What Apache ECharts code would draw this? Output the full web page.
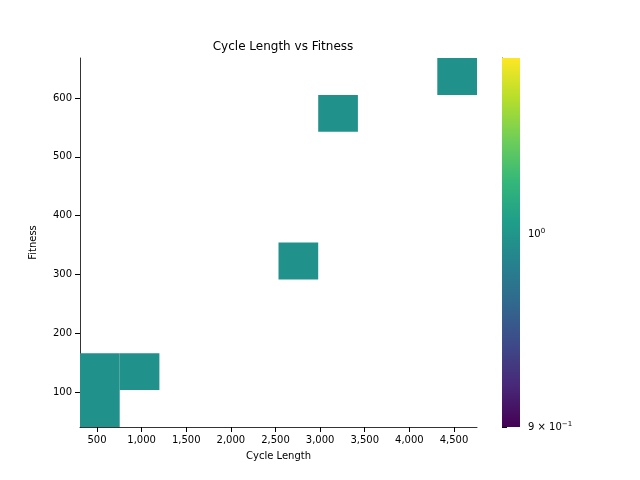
<!DOCTYPE html>
<html><head><meta charset="utf-8">
<script src="https://cdn.jsdelivr.net/npm/echarts@6/dist/echarts.min.js"></script>
<style>body{margin:0}#c{width:640px;height:480px}</style></head>
<body><div id="c"></div>
<script>
const points = [[310,40.5],[520,130],[1000,140],[2750,320],[3200,575],[4758,668]];
const xTicks = [500,1000,1500,2000,2500,3000,3500,4000,4500];
const yTicks = [100,200,300,400,500,600];
const nBins = 10;
const cbMin = 0.9, cbMax = 1.101;
const viridis = ['#440154','#482878','#3e4989','#31688e','#26828e','#1f9e89','#35b779','#6ece58','#b5de2b','#fde725'];

const xs = points.map(p=>p[0]), ys = points.map(p=>p[1]);
const xmin=Math.min(...xs), xmax=Math.max(...xs), ymin=Math.min(...ys), ymax=Math.max(...ys);
const dx=(xmax-xmin)/nBins, dy=(ymax-ymin)/nBins;
const counts={};
points.forEach(([x,y])=>{
  const i=Math.min(nBins-1,Math.floor((x-xmin)/dx)), j=Math.min(nBins-1,Math.floor((y-ymin)/dy));
  counts[i+','+j]=(counts[i+','+j]||0)+1;
});
const cells=Object.keys(counts).map(k=>{const [i,j]=k.split(',').map(Number);
  return [xmin+i*dx,xmin+(i+1)*dx,ymin+j*dy,ymin+(j+1)*dy,counts[k]];});

const chart=echarts.init(document.getElementById('c'));
const font={fontFamily:'DejaVu Sans',fontSize:10,color:'#000'};
const axLine={show:true,lineStyle:{color:'#000',width:0.8}};
chart.setOption({
  animation:false,
  title:{text:'Cycle Length vs Fitness',left:278,top:36,textAlign:'center',textStyle:{fontFamily:'DejaVu Sans',fontSize:12,fontWeight:'normal',color:'#000'}},
  grid:[{left:80,right:163,top:58,bottom:53},{left:502,width:18,top:58,bottom:53}],
  xAxis:[{type:'value',min:xmin,max:xmax,gridIndex:0,name:'Cycle Length',nameLocation:'middle',nameGap:24,nameTextStyle:font,
    axisLine:axLine,splitLine:{show:false},axisTick:{customValues:xTicks,lineStyle:{color:'#000'}},axisLabel:{...font,customValues:xTicks}},
    {type:'value',gridIndex:1,min:0,max:1,show:false}],
  yAxis:[{type:'value',min:ymin,max:ymax,gridIndex:0,name:'Fitness',nameLocation:'middle',nameGap:42,nameTextStyle:font,
    axisLine:axLine,splitLine:{show:false},axisTick:{customValues:yTicks,lineStyle:{color:'#000'}},axisLabel:{...font,customValues:yTicks}},
    {type:'value',gridIndex:1,position:'right',min:Math.log10(cbMin),max:Math.log10(cbMax),axisLine:axLine,splitLine:{show:false},
     axisTick:{customValues:[Math.log10(0.9),0],lineStyle:{color:'#000'}},
     axisLabel:{...font,customValues:[Math.log10(0.9),0],formatter:v=>Math.abs(v)<1e-9?'10{s|0}':'9 × 10{s|−1}',
       rich:{s:{fontSize:7,verticalAlign:'top',padding:[0,0,6,0],fontFamily:'DejaVu Sans'}}}}],
  series:[{type:'custom',xAxisIndex:0,yAxisIndex:0,data:cells,renderItem:(p,api)=>{
      const a=api.coord([api.value(0),api.value(3)]), b=api.coord([api.value(1),api.value(2)]);
      return {type:'rect',shape:{x:a[0],y:a[1],width:b[0]-a[0],height:b[1]-a[1]},style:{fill:'#21918c'}};}},
    {type:'custom',xAxisIndex:1,yAxisIndex:1,data:[[0,1,Math.log10(cbMin),Math.log10(cbMax)]],renderItem:(p,api)=>{
      const a=api.coord([api.value(0),api.value(3)]), b=api.coord([api.value(1),api.value(2)]);
      return {type:'rect',shape:{x:a[0],y:a[1],width:b[0]-a[0],height:b[1]-a[1]},
        style:{fill:new echarts.graphic.LinearGradient(0,1,0,0,viridis.map((c,i)=>({offset:i/(viridis.length-1),color:c})))}};}}]
});
</script></body></html>
